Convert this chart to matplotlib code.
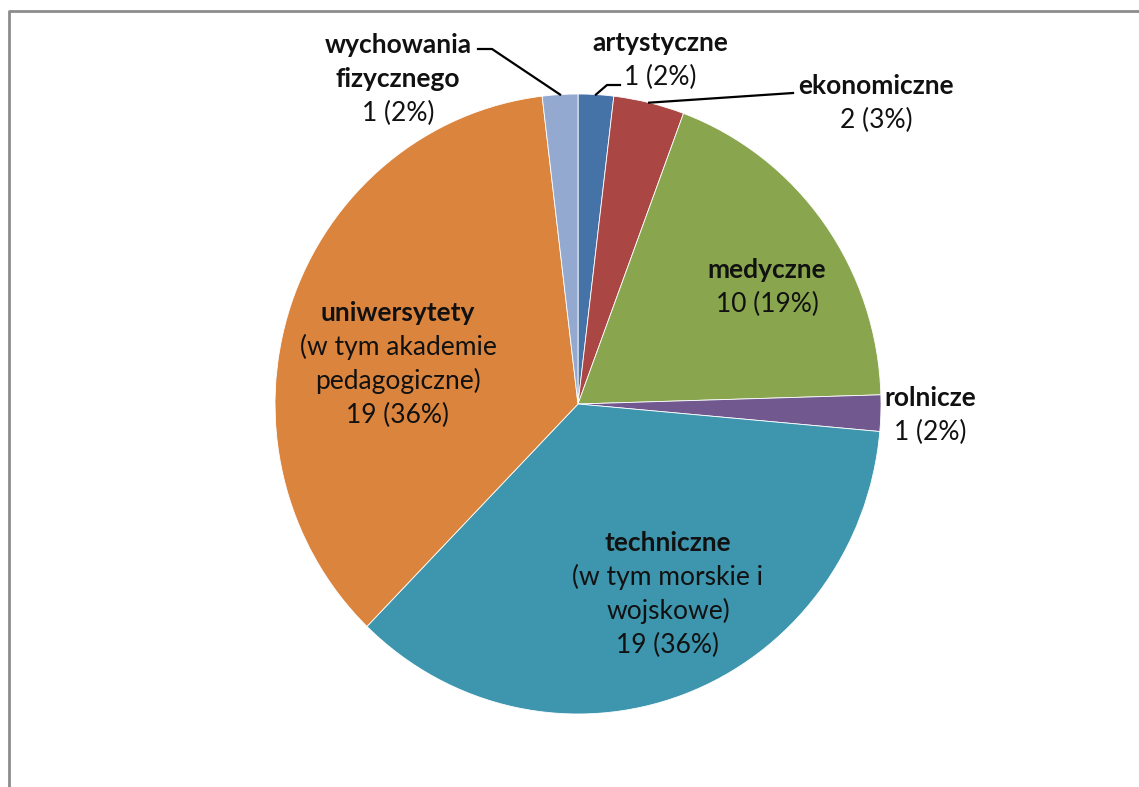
import numpy as np
import matplotlib
matplotlib.use("Agg")
import matplotlib.pyplot as plt

categories = ["artystyczne", "ekonomiczne", "medyczne", "rolnicze",
              "techniczne", "uniwersytety", "wychowania fizycznego"]
values = [1, 2, 10, 1, 19, 19, 1]
percent_labels = ["2%", "3%", "19%", "2%", "36%", "36%", "2%"]
name_lines = [["artystyczne"], ["ekonomiczne"], ["medyczne"], ["rolnicze"],
              ["techniczne", "(w tym morskie i", "wojskowe)"],
              ["uniwersytety", "(w tym akademie", "pedagogiczne)"],
              ["wychowania", "fizycznego"]]
bold_lines = [1, 1, 1, 1, 1, 1, 2]
colors = ["#4572A7", "#AA4643", "#89A54E", "#71588F", "#3D96AE", "#DB843D", "#93A9CF"]

W, H = 1139, 787
fig = plt.figure(figsize=(W / 100, H / 100), dpi=100)
plt.rcParams['font.family'] = ['Lato', 'DejaVu Sans']

# background axes in pixel coordinates
bg = fig.add_axes([0, 0, 1, 1])
bg.set_xlim(0, W)
bg.set_ylim(H, 0)
bg.axis("off")
bg.plot([9, 9, W + 5], [H + 5, 11, 11], color="#8c8c8c", lw=2, solid_capstyle="butt")

# pie geometry in pixels
cx, cy, rx, ry = 578, 404, 303, 310
ax = fig.add_axes([(cx - rx) / W, (H - cy - ry) / H, 2 * rx / W, 2 * ry / H])
wedges, _ = ax.pie(values, colors=colors, startangle=90, counterclock=False,
                   radius=1, center=(0, 0),
                   wedgeprops=dict(edgecolor="white", linewidth=0.6))
ax.set_xlim(-1, 1)
ax.set_ylim(-1, 1)
ax.set_aspect("auto")
ax.axis("off")

# overlay axes for labels and leader lines
ov = fig.add_axes([0, 0, 1, 1])
ov.set_xlim(0, W)
ov.set_ylim(H, 0)
ov.axis("off")
ov.patch.set_alpha(0)

label_pos = [(660, 43), (876, 86), (767, 270), (930, 398),
             (668, 543), (398, 313), (398, 45)]
line_h = 34
fs = 19
for i, (lines, (lx, ly)) in enumerate(zip(name_lines, label_pos)):
    for j, t in enumerate(lines):
        ov.text(lx, ly + j * line_h, t, ha="center", va="center", fontsize=fs,
                fontweight="bold" if j < bold_lines[i] else "normal", color="#111111")
    ov.text(lx, ly + len(lines) * line_h, f"{values[i]} ({percent_labels[i]})",
            ha="center", va="center", fontsize=fs, color="#111111")

total = sum(values)
cum = np.cumsum([0] + values)
def edge_point(k):
    mid = (cum[k] + cum[k + 1]) / 2 / total * 2 * np.pi
    return cx + rx * np.sin(mid), cy - ry * np.cos(mid)

leaders = {0: [(607, 85), (620, 85)],
           1: [(793, 93)],
           6: [(492, 49), (478, 49)]}
for k, pts in leaders.items():
    px, py = edge_point(k)
    xs = [px] + [p[0] for p in pts]
    ys = [py] + [p[1] for p in pts]
    ov.plot(xs, ys, color="black", lw=1.6)

fig.savefig("out.png", dpi=100)
